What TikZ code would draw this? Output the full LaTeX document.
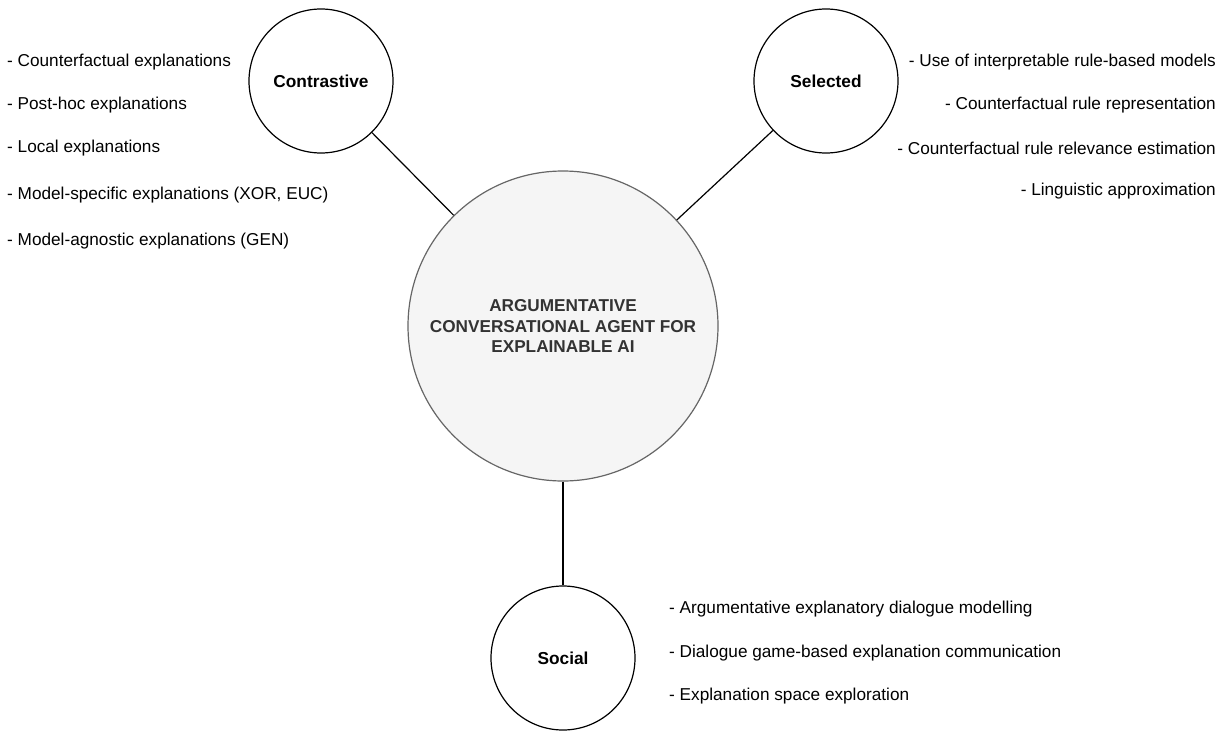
\documentclass[tikz,border=0pt]{standalone}
\usepackage{fontspec}
\setmainfont{Liberation Sans}
\begin{document}
\begin{tikzpicture}[x=1pt,y=-1pt,
  topic/.style={circle,draw=black,line width=1.2pt,fill=white,inner sep=0pt,minimum size=144pt,font=\bfseries\fontsize{17.3}{20}\selectfont},
  hub/.style={circle,draw=black!60,line width=1.2pt,fill=black!4,inner sep=0pt,minimum size=310pt,align=center,text=black!80,font=\bfseries\fontsize{17.2}{20.7}\selectfont},
  item/.style={inner sep=0pt,font=\fontsize{17.2}{20}\selectfont},
  link/.style={draw=black,line width=1.2pt}]
\useasboundingbox (0,0) rectangle (1224,731);

% central concept and its three properties
\node[hub] (core) at (563,326) {ARGUMENTATIVE\\CONVERSATIONAL AGENT FOR\\EXPLAINABLE AI};
\node[topic] (contr) at (321,81) {Contrastive};
\node[topic] (sel) at (826,81) {Selected};
\node[topic] (soc) at (563,658) {Social};

\draw[link] (contr) -- (core);
\draw[link] (sel) -- (core);
\draw[link] (core) -- (soc);

% contrastive list
\node[item,anchor=west] (c1) at (7,62.5) {- Counterfactual explanations};
\node[item,anchor=west] (c2) at (7,105.5) {- Post-hoc explanations};
\node[item,anchor=west] (c3) at (7,148.5) {- Local explanations};
\node[item,anchor=west] (c4) at (7,195.5) {- Model-specific explanations (XOR, EUC)};
\node[item,anchor=west] (c5) at (7,241.5) {- Model-agnostic explanations (GEN)};

% selected list
\node[item,anchor=east] (s1) at (1216,62.5) {- Use of interpretable rule-based models};
\node[item,anchor=east] (s2) at (1216,105.5) {- Counterfactual rule representation};
\node[item,anchor=east] (s3) at (1216,148.5) {- Counterfactual rule relevance estimation};
\node[item,anchor=east] (s4) at (1216,191.5) {- Linguistic approximation};

% social list
\node[item,anchor=west] (o1) at (669,609.5) {- Argumentative explanatory dialogue modelling};
\node[item,anchor=west] (o2) at (669,653.5) {- Dialogue game-based explanation communication};
\node[item,anchor=west] (o3) at (669,696.5) {- Explanation space exploration};
\end{tikzpicture}
\end{document}
